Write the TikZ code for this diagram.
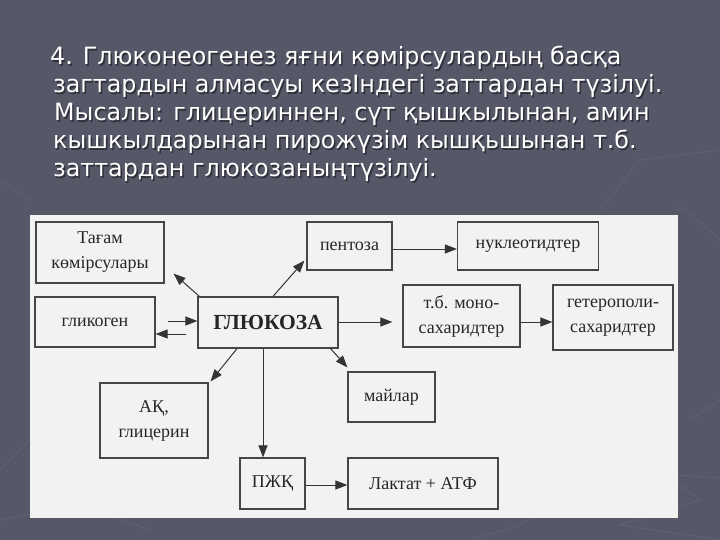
\documentclass[tikz,border=0pt]{standalone}
\usepackage{fontspec}
\setmainfont{Liberation Serif}
\newfontfamily\titlefont{DejaVu Sans}
\usetikzlibrary{arrows.meta,calc}
\definecolor{bgslate}{RGB}{86,88,104}
\definecolor{bgline}{RGB}{97,99,115}
\definecolor{paper}{RGB}{242,242,240}
\definecolor{boxline}{RGB}{70,70,70}
\definecolor{arrowc}{RGB}{50,53,50}
\tikzset{
  stepbox/.style={draw=boxline, line width=1.2pt, align=center, inner sep=0pt,
    font=\fontsize{18}{25}\selectfont, text=black!85},
  arr/.style={draw=arrowc, line width=1pt, -{Triangle[length=12pt,width=9pt]}},
  titleline/.style={anchor=base west, inner sep=0pt, text=white,
    font=\titlefont\fontsize{23.8}{28}\selectfont},
  shadowline/.style={anchor=base west, inner sep=0pt, text=black, opacity=0.45,
    font=\titlefont\fontsize{23.8}{28}\selectfont},
  bgdeco/.style={draw=bgline, line width=0.8pt}
}
\begin{document}
\begin{tikzpicture}[x=1pt,y=-1pt]
\useasboundingbox (0,0) rectangle (720,540);
\fill[bgslate] (0,0) rectangle (720,540);
% faint background decoration
\draw[bgdeco] (470,540) -- (520,525) -- (600,470) -- (720,478);
\draw[bgdeco] (640,455) -- (700,500) -- (620,525) -- (720,540);
\draw[bgdeco] (690,420) -- (720,400);
\draw[bgdeco] (0,470) -- (30,440);
\draw[bgdeco] (0,520) -- (80,505) -- (150,530);
\draw[bgdeco] (600,210) -- (640,160) -- (720,150);
\draw[bgdeco] (680,205) -- (720,240);
\draw[bgdeco] (0,180) -- (30,200);
% title text
\foreach \yy/\xx/\tx [count=\i] in {
  65/50/{4. Глюконеогенез яғни көмірсулардың басқа},
  93/53/{загтардын алмасуы кезІндегі заттардан түзілуі.},
  121/54/{Мысалы: глицериннен, сүт қышкылынан, амин},
  149/53/{кышкылдарынан пирожүзім кышқьшынан т.б.},
  177/53/{заттардан глюкозаныңтүзілуі.}} {
  \node[shadowline] (s\i) at (\xx+1.5,\yy+1.5) {\tx};
  \node[titleline] (t\i) at (\xx,\yy) {\tx};
}
% scanned page
\fill[paper] (30,215) rectangle (678,518);
% boxes
\node[stepbox, minimum width=128pt, minimum height=61pt] (tagam) at (100,252.5) {Тағам\\көмірсулары};
\node[stepbox, minimum width=120pt, minimum height=50pt] (glik) at (95,322) {гликоген};
\node[stepbox, minimum width=140pt, minimum height=51pt, font=\bfseries\fontsize{21.5}{24}\selectfont] (gluc) at (268,322.5) {ГЛЮКОЗА};
\node[stepbox, minimum width=85pt, minimum height=48pt] (pent) at (349.5,246) {пентоза};
\node[stepbox, minimum width=141pt, minimum height=48pt] (nukl) at (528,246) {нуклеотидтер};
\node[stepbox, minimum width=117pt, minimum height=62pt] (mono) at (461.5,316) {т.б. моно-\\сахаридтер};
\node[stepbox, minimum width=120pt, minimum height=65pt] (hetero) at (613,317.5) {гетерополи-\\сахаридтер};
\node[stepbox, minimum width=108pt, minimum height=75pt] (ak) at (154,420.5) {АҚ,\\глицерин};
\node[stepbox, minimum width=87pt, minimum height=50pt] (mai) at (391.5,397) {майлар};
\node[stepbox, minimum width=65pt, minimum height=51pt] (pzhk) at (272.5,483.5) {ПЖҚ};
\node[stepbox, minimum width=150pt, minimum height=51pt] (lakt) at (423,483.5) {Лактат + АТФ};
% arrows
\draw[arr] ($(gluc.north west)+(2,0)$) -- ($(tagam.south east)+(9,-10)$);
\draw[arr] ($(gluc.north)+(5,0)$) -- ($(pent.south west)+(-2,-10)$);
\draw[arr] ($(glik.east)+(12,-1)$) -- ($(gluc.west)+(0,-1.5)$);
\draw[arr] ($(gluc.west)+(-11,11.5)$) -- ($(glik.east)+(0,12)$);
\draw[arr] ($(pent.east)+(0,3)$) -- ($(nukl.west)+(0,3)$);
\draw[arr] ($(gluc.east)+(0,-0.5)$) -- ($(mono.west)+(-10,6)$);
\draw[arr] ($(mono.east)+(0,6)$) -- ($(hetero.west)+(0,4.5)$);
\draw[arr] ($(gluc.south)+(-31,0)$) -- ($(ak.north east)+(2,-1)$);
\draw[arr] ($(gluc.south)+(-5,0)$) -- ($(pzhk.north)+(-9.5,0)$);
\draw[arr] ($(gluc.south east)+(-8,0)$) -- ($(mai.north west)+(0,-4)$);
\draw[arr] ($(pzhk.east)+(0,1.5)$) -- ($(lakt.west)+(0,1.5)$);
\end{tikzpicture}
\end{document}
